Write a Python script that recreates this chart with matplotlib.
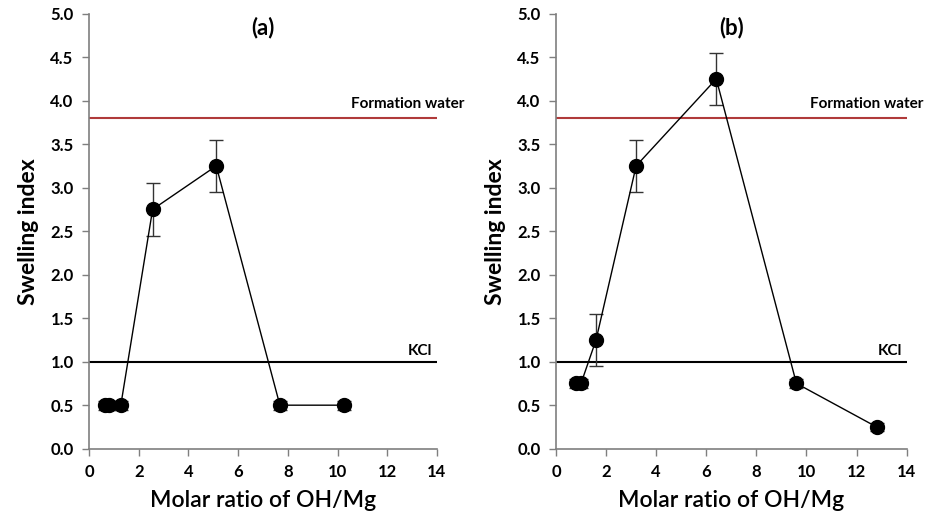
import matplotlib
matplotlib.use("Agg")
import matplotlib.pyplot as plt

# Data
x_a = [0.64, 0.80, 1.28, 2.56, 5.12, 7.68, 10.24]
y_a = [0.5, 0.5, 0.5, 2.75, 3.25, 0.5, 0.5]
err_a = [0.05, 0.05, 0.05, 0.3, 0.3, 0.05, 0.05]

x_b = [0.8, 1.0, 1.6, 3.2, 6.4, 9.6, 12.8]
y_b = [0.75, 0.75, 1.25, 3.25, 4.25, 0.75, 0.25]
err_b = [0.05, 0.05, 0.3, 0.3, 0.3, 0.05, 0.05]

formation_water = 3.8
kcl = 1.0
panel_titles = ["(a)", "(b)"]
xticks = [0, 2, 4, 6, 8, 10, 12, 14]
yticks = [0.0, 0.5, 1.0, 1.5, 2.0, 2.5, 3.0, 3.5, 4.0, 4.5, 5.0]

plt.rcParams['font.family'] = ['Lato', 'DejaVu Sans']

fig = plt.figure(figsize=(9.26, 5.21), dpi=100)
axA = fig.add_axes([0.0961, 0.1388, 0.3758, 0.835])
axB = fig.add_axes([0.6004, 0.1388, 0.3787, 0.835])

for ax, xs, ys, es, title, fw_x in [(axA, x_a, y_a, err_a, panel_titles[0], 15.1),
                                    (axB, x_b, y_b, err_b, panel_titles[1], 14.65)]:
    ax.plot([0, 14], [formation_water, formation_water], color='#b03a3a', lw=1.5, zorder=1)
    ax.plot([0, 14], [kcl, kcl], color='black', lw=1.5, zorder=1)
    ax.errorbar(xs, ys, yerr=es, fmt='o-', color='black', ms=10, lw=1.0,
                ecolor='#333333', elinewidth=1.0, capsize=5, capthick=1.0, zorder=3)
    ax.text(fw_x, formation_water + 0.085, "Formation water", ha='right', va='bottom',
            fontsize=11, fontweight='bold', clip_on=False)
    ax.text(13.8, kcl + 0.045, "KCl", ha='right', va='bottom',
            fontsize=11, fontweight='bold')
    ax.text(7.0, 4.96, title, ha='center', va='top', fontsize=16, fontweight='bold')
    ax.set_xlim(0, 14)
    ax.set_ylim(0, 5)
    ax.set_xticks(xticks)
    ax.set_yticks(yticks)
    ax.set_yticklabels([f"{v:.1f}" for v in yticks])
    for s in ['top', 'right']:
        ax.spines[s].set_visible(False)
    for s in ['left', 'bottom']:
        ax.spines[s].set_color('#7f7f7f')
        ax.spines[s].set_linewidth(1.2)
    ax.tick_params(direction='out', length=5, width=1.0, color='#7f7f7f',
                   labelsize=12, pad=6)
    for lab in ax.get_xticklabels() + ax.get_yticklabels():
        lab.set_fontweight('bold')
    ax.set_xlabel("Molar ratio of OH/Mg", fontsize=16.5, fontweight='semibold', labelpad=7)
    ax.set_ylabel("Swelling index", fontsize=16.5, fontweight='bold', labelpad=8)

fig.savefig("out.png", dpi=100)
